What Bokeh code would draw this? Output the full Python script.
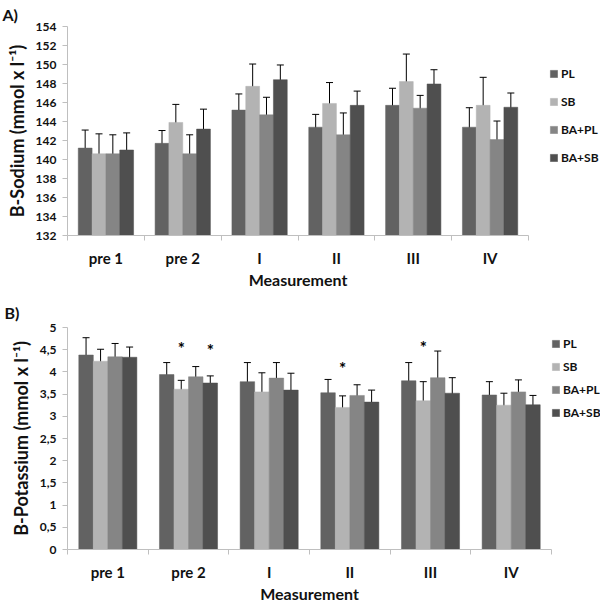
from bokeh.plotting import figure
from bokeh.layouts import column
from bokeh.models import (Range1d, FixedTicker, SingleIntervalTicker, CustomJSTickFormatter,
                          ColumnDataSource, Whisker, TeeHead, Legend, LegendItem)
from bokeh.transform import dodge
from bokeh.core.properties import value
from bokeh.embed import file_html
from bokeh.resources import INLINE

# ---------------- data ----------------
categories = ["pre 1", "pre 2", "I", "II", "III", "IV"]
groups = ["PL", "SB", "BA+PL", "BA+SB"]
colors = ["#626262", "#b3b3b3", "#858585", "#4f4f4f"]

sodium_pl = [141.2, 141.7, 145.2, 143.4, 145.7, 143.4]
sodium_pl_err = [1.9, 1.35, 1.7, 1.35, 1.8, 2.05]
sodium_sb = [140.6, 143.9, 147.7, 145.9, 148.2, 145.7]
sodium_sb_err = [2.1, 1.9, 2.35, 2.2, 2.9, 2.95]
sodium_bapl = [140.6, 140.6, 144.7, 142.6, 145.4, 142.1]
sodium_bapl_err = [2.0, 2.0, 1.85, 2.3, 1.35, 1.95]
sodium_basb = [141.0, 143.2, 148.4, 145.7, 147.95, 145.5]
sodium_basb_err = [1.8, 2.1, 1.55, 1.5, 1.5, 1.5]

potassium_pl = [4.38, 3.94, 3.78, 3.53, 3.80, 3.48]
potassium_pl_err = [0.39, 0.27, 0.43, 0.30, 0.41, 0.30]
potassium_sb = [4.24, 3.61, 3.55, 3.20, 3.35, 3.25]
potassium_sb_err = [0.27, 0.20, 0.43, 0.26, 0.43, 0.27]
potassium_bapl = [4.34, 3.89, 3.86, 3.47, 3.87, 3.55]
potassium_bapl_err = [0.30, 0.23, 0.35, 0.24, 0.60, 0.27]
potassium_basb = [4.33, 3.75, 3.59, 3.32, 3.52, 3.26]
potassium_basb_err = [0.23, 0.16, 0.38, 0.27, 0.35, 0.21]

star_category = ["pre 2", "pre 2", "II", "III"]
star_group = ["SB", "BA+SB", "SB", "SB"]
star_y = [4.65, 4.60, 4.19, 4.66]

FONT = "Lato"
OFFSETS = [-0.27, -0.09, 0.09, 0.27]
BAR_W = 0.18


def make_chart(vals, errs, y0, y1, tick_int, ylabel, panel, FW, FH, mb, leg_margin,
               title_standoff, leg_spacing, panel_offset, panel_standoff, stars=None):
    p = figure(frame_width=FW, frame_height=FH, x_range=Range1d(0, len(categories)),
               y_range=Range1d(y0, y1),
               output_backend="svg", toolbar_location=None,
               min_border_left=mb[0], min_border_right=mb[1], min_border_top=mb[2],
               min_border_bottom=mb[3])
    p.outline_line_color = None
    p.xgrid.visible = False
    p.ygrid.visible = False

    # panel letter as the figure title
    p.title.text = panel
    p.title.align = "left"
    p.title.offset = panel_offset
    p.title.standoff = panel_standoff
    p.title.text_font = FONT
    p.title.text_font_style = "bold"
    p.title.text_font_size = "16px"
    p.title.text_color = "#111111"

    data = dict(x=[i + 0.5 for i in range(len(categories))])
    for j, g in enumerate(groups):
        data[f"v{j}"] = vals[j]
        data[f"lo{j}"] = [v - e for v, e in zip(vals[j], errs[j])]
        data[f"hi{j}"] = [v + e for v, e in zip(vals[j], errs[j])]
    src = ColumnDataSource(data)

    items = []
    for j, g in enumerate(groups):
        r = p.vbar(x=dodge("x", OFFSETS[j], range=p.x_range), top=f"v{j}", bottom=y0,
                   width=BAR_W, source=src, fill_color=colors[j], line_color=colors[j],
                   line_width=0.5)
        items.append(LegendItem(label=g, renderers=[r]))
        w = Whisker(base=dodge("x", OFFSETS[j], range=p.x_range), upper=f"hi{j}", lower=f"lo{j}",
                    source=src, line_color="black", line_width=1,
                    upper_head=TeeHead(size=7, line_color="black", line_width=1),
                    lower_head=TeeHead(size=7, line_color="black", line_width=1))
        p.add_layout(w)

    if stars:
        sx = [categories.index(c) + 0.5 + OFFSETS[groups.index(g)] for c, g in zip(stars[0], stars[1])]
        ssrc = ColumnDataSource(dict(x=sx, y=stars[2], t=["*"] * len(sx)))
        p.text(x="x", y="y", text="t", source=ssrc, text_align="center", text_baseline="middle",
               text_font=value(FONT), text_font_style="bold", text_font_size="17px",
               text_color="black", y_offset=5)

    legend = Legend(items=items, location="top_left", orientation="vertical", padding=0,
                    margin=leg_margin, spacing=leg_spacing, glyph_width=9, glyph_height=9,
                    label_standoff=3, title=" ", title_text_font_size="2px",
                    title_standoff=title_standoff,
                    label_text_font=FONT, label_text_font_style="bold", label_text_font_size="12px",
                    label_text_color="#111111", border_line_color=None, background_fill_alpha=0)
    p.add_layout(legend, "right")

    # y axis
    ya = p.yaxis[0]
    ya.ticker = SingleIntervalTicker(interval=tick_int)
    ya.formatter = CustomJSTickFormatter(code="return (Math.round(tick*10)/10).toString().replace('.', ',')")
    ya.axis_line_color = "#bfbfbf"
    ya.major_tick_line_color = "#bfbfbf"
    ya.major_tick_out = 5
    ya.major_tick_in = 0
    ya.minor_tick_out = 0
    ya.minor_tick_in = 0
    ya.major_label_standoff = 6
    ya.major_label_text_font = FONT
    ya.major_label_text_font_style = "bold"
    ya.major_label_text_font_size = "12px"
    ya.major_label_text_color = "#111111"
    ya.axis_label = ylabel
    ya.axis_label_text_font = FONT
    ya.axis_label_text_font_style = "bold"
    ya.axis_label_text_font_size = "18px"
    ya.axis_label_text_color = "#111111"
    ya.axis_label_standoff = 5

    # x axis
    xa = p.xaxis[0]
    xa.ticker = FixedTicker(ticks=[i + 0.5 for i in range(len(categories))],
                            minor_ticks=[i for i in range(len(categories) + 1)])
    xa.formatter = CustomJSTickFormatter(args=dict(labels=categories),
                                         code="return labels[Math.floor(tick)]")
    xa.axis_line_color = "#bfbfbf"
    xa.major_tick_out = 0
    xa.major_tick_in = 0
    xa.major_tick_line_color = None
    xa.minor_tick_out = 5
    xa.minor_tick_in = 0
    xa.minor_tick_line_color = "#bfbfbf"
    xa.major_label_standoff = 8
    xa.major_label_text_font = FONT
    xa.major_label_text_font_style = "bold"
    xa.major_label_text_font_size = "15px"
    xa.major_label_text_color = "#111111"
    xa.axis_label = "Measurement"
    xa.axis_label_text_font = FONT
    xa.axis_label_text_font_style = "bold"
    xa.axis_label_text_font_size = "16px"
    xa.axis_label_text_color = "#111111"
    xa.axis_label_standoff = 0
    return p


pA = make_chart([sodium_pl, sodium_sb, sodium_bapl, sodium_basb],
                [sodium_pl_err, sodium_sb_err, sodium_bapl_err, sodium_basb_err],
                132, 154, 2, "B-Sodium (mmol x l\u207b\u00b9)", "A)",
                FW=461, FH=209, mb=(67, 20, 25, 55), leg_margin=21, title_standoff=17,
                leg_spacing=13, panel_offset=-65, panel_standoff=5)
pB = make_chart([potassium_pl, potassium_sb, potassium_bapl, potassium_basb],
                [potassium_pl_err, potassium_sb_err, potassium_bapl_err, potassium_basb_err],
                0, 5, 0.5, "B-Potassium (mmol x l\u207b\u00b9)", "B)",
                FW=484, FH=222, mb=(65, 20, 36, 53), leg_margin=0, title_standoff=7,
                leg_spacing=8, panel_offset=-63, panel_standoff=12,
                stars=(star_category, star_group, star_y))

layout = column(pA, pB, spacing=0)
open("out.html", "w").write(file_html(layout, INLINE))
